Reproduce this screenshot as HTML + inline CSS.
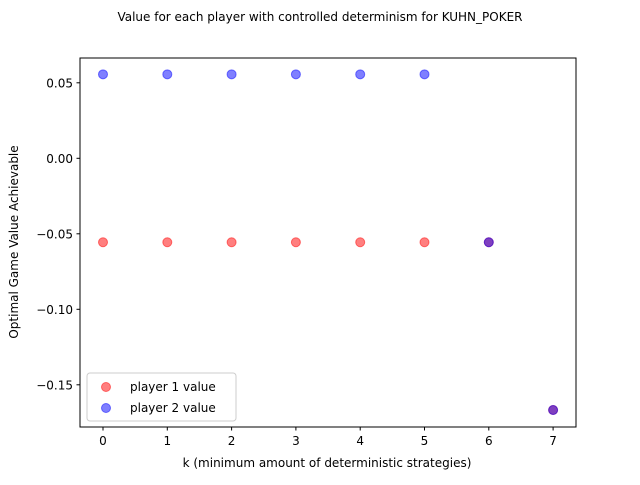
<!DOCTYPE html>
<html><head><style>body{margin:0;background:#fff}svg{font-family:"DejaVu Sans","Liberation Sans",sans-serif}</style></head>
<body>
<svg id="c" width="640" height="480" xmlns="http://www.w3.org/2000/svg">
<rect width="640" height="480" fill="#fff"/>
<text x="320" y="21" font-size="12" text-anchor="middle">Value for each player with controlled determinism for KUHN_POKER</text>
<g id="plot"></g>
<rect x="80" y="58" width="496" height="369" fill="none" stroke="#000" stroke-width="1"/>
<text x="327" y="467" font-size="12" text-anchor="middle">k (minimum amount of deterministic strategies)</text>
<text transform="translate(18,242) rotate(-90)" font-size="12" text-anchor="middle">Optimal Game Value Achievable</text>
<g>
<rect x="87" y="373" width="149" height="48" rx="3" fill="#fff" fill-opacity="0.8" stroke="#ccc"/>
<circle cx="106" cy="387" r="4.5" fill="red" fill-opacity="0.5" stroke="red" stroke-opacity="0.5" stroke-width="1"/>
<text x="130" y="391" font-size="12">player 1 value</text>
<circle cx="106" cy="408" r="4.5" fill="blue" fill-opacity="0.5" stroke="blue" stroke-opacity="0.5" stroke-width="1"/>
<text x="130" y="412" font-size="12">player 2 value</text>
</g>
</svg>
<script>
const ks=[0,1,2,3,4,5,6,7];
const p1=[-0.0556,-0.0556,-0.0556,-0.0556,-0.0556,-0.0556,-0.0556,-0.1667];
const p2=[0.0556,0.0556,0.0556,0.0556,0.0556,0.0556,-0.0556,-0.1667];
const yTicks=[0.05,0.00,-0.05,-0.10,-0.15];
const yTickLabels=["0.05","0.00","−0.05","−0.10","−0.15"];
const xTicks=[0,1,2,3,4,5,6,7];
const sx=v=>103+v*64.3;
const sy=v=>158.3-v*1510;
const NS="http://www.w3.org/2000/svg";
const g=document.getElementById('plot');
function mk(t,a){const e=document.createElementNS(NS,t);for(const k in a)e.setAttribute(k,a[k]);g.appendChild(e);return e;}
xTicks.forEach(v=>{
 const l=mk('line',{x1:sx(v),x2:sx(v),y1:427,y2:430.5,stroke:'#000'});
 
 
 const t=mk('text',{x:sx(v),y:445,'font-size':12,'text-anchor':'middle'});t.textContent=v;
 
 
});
yTicks.forEach((v,i)=>{
 const l=mk('line',{x1:76.5,x2:80,y1:sy(v),y2:sy(v),stroke:'#000'});
 
 
 const t=mk('text',{x:73,y:sy(v)+4.5,'font-size':12,'text-anchor':'end'});t.textContent=yTickLabels[i];
 
 
});
ks.forEach((k,i)=>{
 const c=mk('circle',{cx:sx(k),cy:sy(p1[i]),r:4.5,fill:'red','fill-opacity':0.5,stroke:'red','stroke-opacity':0.5,'stroke-width':1});
 
 
});
ks.forEach((k,i)=>{
 const c=mk('circle',{cx:sx(k),cy:sy(p2[i]),r:4.5,fill:'blue','fill-opacity':0.5,stroke:'blue','stroke-opacity':0.5,'stroke-width':1});
 
 
});
</script>
</body></html>
